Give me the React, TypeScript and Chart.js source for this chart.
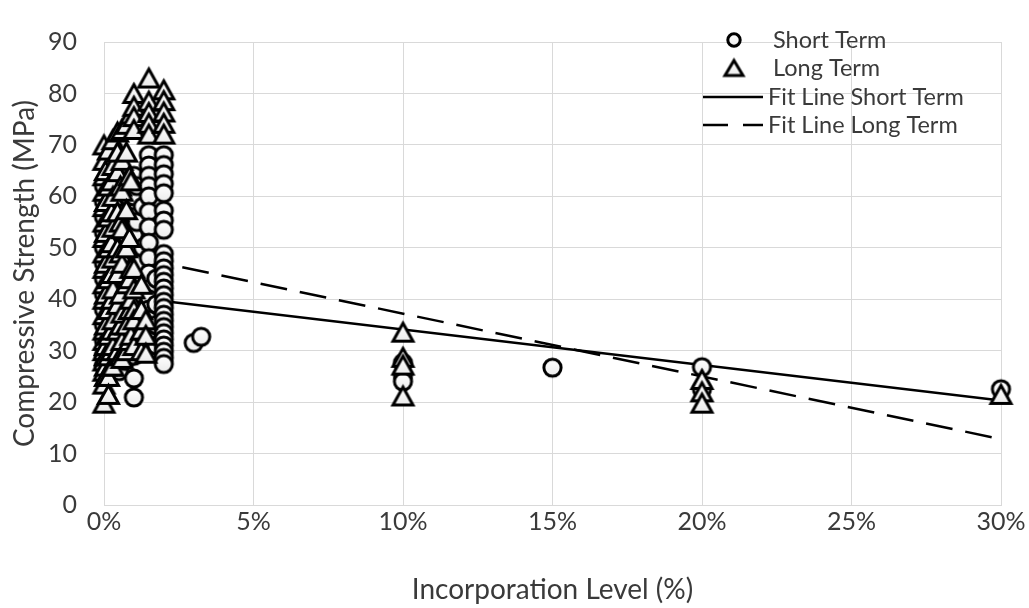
import React, { useEffect, useRef } from "react";
import { Chart, registerables } from "chart.js";

Chart.register(...registerables);

const FONT = "Lato, 'Open Sans', sans-serif";
const TEXT_COLOR = "#3a3a3a";
const GRID_COLOR = "#d9d9d9";

// Short-term compressive strength (MPa) grouped by incorporation level (%)
const shortTermLevels = [0, 0.1, 0.2, 0.3, 0.4, 0.5, 0.6, 0.7, 0.8, 0.9, 1.0, 1.1, 1.2, 1.3, 1.5, 1.75, 2.0, 3.0, 3.25, 10, 15, 20, 30];
const shortTermStrengths = [
  [62, 59, 56, 53, 50, 47, 44, 41, 38, 35, 32, 29, 27],
  [60, 54, 48, 42, 36, 30, 25],
  [63, 58, 52, 46, 40, 34, 28],
  [64, 57, 51, 45, 39, 33, 28],
  [66, 60, 54, 49, 43, 37, 31],
  [67, 62, 58, 52, 46, 41, 35, 29, 26],
  [65, 59, 50, 44, 38, 32],
  [63, 55, 48, 42, 36, 31, 28],
  [60, 52, 46, 40, 34, 30],
  [61, 53, 45, 38, 33, 29],
  [64, 60, 56, 52.5, 49, 46, 43, 40, 37, 34, 31, 29, 24.6, 20.9],
  [62, 55, 47, 39, 33],
  [47, 41, 36, 32, 30],
  [58, 50, 44, 38, 31],
  [68, 66, 64, 62, 60, 57, 54, 51, 48, 45, 42, 40, 38, 36, 34, 32, 30],
  [44, 39, 35, 31],
  [68, 66.1, 64.3, 62.4, 60.6, 57.2, 55.3, 53.5, 48.8, 47.4, 46, 44.7, 43.4, 42.1, 40.8, 39.5, 38.3, 37, 35.8, 34.6, 33.4, 32.2, 31, 29.8, 28.6, 27.4],
  [31.5],
  [32.7],
  [27.6, 25.2, 24],
  [26.7],
  [26.8, 22.5],
  [22.5],
];

// Long-term compressive strength (MPa) grouped by incorporation level (%)
const longTermLevels = [0, 0.05, 0.15, 0.25, 0.3, 0.45, 0.55, 0.6, 0.75, 0.85, 0.9, 1.0, 1.25, 1.4, 1.5, 2.0, 10, 20, 30];
const longTermStrengths = [
  [70, 67, 64, 61, 58, 55, 52, 49, 46, 43, 40, 37, 34, 32, 30, 28, 26, 23.5, 19.8],
  [65, 59, 53, 47, 41, 35, 31, 29, 27, 25],
  [69, 62, 56, 50, 44, 38, 33, 29, 25, 21.5],
  [63, 57, 51, 45, 40, 34, 30, 27],
  [71, 66, 60, 54, 48, 42, 36, 31, 27],
  [72.5, 68.6, 64.8, 57, 50, 45, 39, 34, 30],
  [62, 55, 49, 41, 35, 29],
  [73, 67, 61, 53.7, 47, 37.3, 32, 28.5],
  [74, 68.6, 57.4, 50, 43, 35, 30],
  [64, 52, 44, 38, 32],
  [76, 63, 46, 40, 33],
  [80, 77.5, 75.5, 73, 46, 42, 38, 36, 31],
  [42.9, 38, 34, 30],
  [36, 33, 29.5],
  [83, 78.5, 76.3, 74.2, 72.1],
  [80.7, 78.6, 76.4, 74.2, 72.1],
  [33.6, 28.7, 27.2, 21.2],
  [24.4, 22, 19.8],
  [21.5],
];

// Linear fit lines evaluated at the ends of the level range
const fitLevels = [0, 30];
const shortTermFit = [41.0, 20.3];
const longTermFit = [49.4, 12.8];

const legendLabels = ["Short Term", "Long Term", "Fit Line Short Term", "Fit Line Long Term"];

const toPoints = (levels: number[], values: number[][]) =>
  levels.flatMap((lvl, i) => values[i].map((v) => ({ x: lvl, y: v })));

const fitPoints = (values: number[]) => fitLevels.map((lvl, i) => ({ x: lvl, y: values[i] }));

function markerFill(g: CanvasRenderingContext2D, top: number, bottom: number) {
  const grad = g.createLinearGradient(0, top, 0, bottom);
  grad.addColorStop(0, "#ffffff");
  grad.addColorStop(1, "#ececec");
  return grad;
}

function circleMarker(r: number, lw: number) {
  const size = Math.ceil(2 * r + lw + 4);
  const c = document.createElement("canvas");
  c.width = size;
  c.height = size;
  const g = c.getContext("2d")!;
  const m = size / 2;
  g.beginPath();
  g.arc(m, m, r, 0, Math.PI * 2);
  g.fillStyle = markerFill(g, m - r, m + r);
  g.fill();
  g.lineWidth = lw;
  g.strokeStyle = "#000";
  g.stroke();
  return c;
}

function triangleMarker(halfW: number, halfH: number, lw: number) {
  const size = Math.ceil(2 * Math.max(halfW, halfH) + lw * 3 + 4);
  const c = document.createElement("canvas");
  c.width = size;
  c.height = size;
  const g = c.getContext("2d")!;
  const m = size / 2;
  g.beginPath();
  g.moveTo(m, m - halfH);
  g.lineTo(m + halfW, m + halfH);
  g.lineTo(m - halfW, m + halfH);
  g.closePath();
  g.fillStyle = markerFill(g, m - halfH, m + halfH);
  g.fill();
  g.lineWidth = lw;
  g.lineJoin = "miter";
  g.strokeStyle = "#000";
  g.stroke();
  return c;
}

const legendPlugin = {
  id: "insideLegend",
  afterDraw(chart: any) {
    const ctx = chart.ctx as CanvasRenderingContext2D;
    const rows = [40, 68, 97, 125];
    const markerX = 734;
    ctx.save();
    ctx.font = `23.5px ${FONT}`;
    ctx.fillStyle = TEXT_COLOR;
    ctx.textBaseline = "middle";
    ctx.textAlign = "left";

    const c = circleMarker(6.2, 3);
    ctx.drawImage(c, markerX - c.width / 2, rows[0] - c.height / 2);
    const t = triangleMarker(9, 7.5, 3);
    ctx.drawImage(t, markerX - t.width / 2, rows[1] - t.height / 2);

    ctx.strokeStyle = "#000";
    ctx.lineWidth = 2.5;
    ctx.beginPath();
    ctx.moveTo(703, rows[2]);
    ctx.lineTo(763, rows[2]);
    ctx.stroke();
    ctx.setLineDash([25, 15]);
    ctx.beginPath();
    ctx.moveTo(703, rows[3]);
    ctx.lineTo(763, rows[3]);
    ctx.stroke();
    ctx.setLineDash([]);

    ctx.fillText(legendLabels[0], 773, rows[0]);
    ctx.fillText(legendLabels[1], 773, rows[1]);
    ctx.fillText(legendLabels[2], 768, rows[2]);
    ctx.fillText(legendLabels[3], 768, rows[3]);
    ctx.restore();
  },
};

export default function App() {
  const canvasRef = useRef<HTMLCanvasElement | null>(null);

  useEffect(() => {
    const canvas = canvasRef.current;
    if (!canvas) return;
    const circle = circleMarker(8.6, 3);
    const triangle = triangleMarker(10, 9, 3);

    const tickFont = { family: FONT, size: 25 };
    const titleFont = { family: FONT, size: 28 };

    const chart = new Chart(canvas, {
      type: "scatter",
      data: {
        datasets: [
          {
            label: legendLabels[1],
            data: toPoints(longTermLevels, longTermStrengths),
            pointStyle: triangle as any,
            pointRadius: 10,
            showLine: false,
            clip: false as any,
            order: 0,
          },
          {
            label: legendLabels[0],
            data: toPoints(shortTermLevels, shortTermStrengths),
            pointStyle: circle as any,
            pointRadius: 10,
            showLine: false,
            clip: false as any,
            order: 1,
          },
          {
            label: legendLabels[2],
            type: "line",
            data: fitPoints(shortTermFit),
            borderColor: "#000",
            borderWidth: 2.5,
            pointRadius: 0,
            fill: false,
            order: 2,
          } as any,
          {
            label: legendLabels[3],
            type: "line",
            data: fitPoints(longTermFit),
            borderColor: "#000",
            borderWidth: 2.5,
            borderDash: [27, 13],
            pointRadius: 0,
            fill: false,
            order: 3,
          } as any,
        ],
      },
      options: {
        responsive: false,
        maintainAspectRatio: false,
        animation: false,
        devicePixelRatio: 1,
        layout: { padding: { top: 22, right: 28, bottom: 0, left: 0 } },
        plugins: {
          legend: { display: false },
          tooltip: { enabled: false },
        },
        scales: {
          x: {
            type: "linear",
            min: 0,
            max: 30,
            afterFit(scale: any) {
              scale.height = 103;
            },
            ticks: {
              stepSize: 5,
              callback: (v: any) => `${v}%`,
              font: tickFont,
              color: TEXT_COLOR,
              padding: 2,
              maxRotation: 0,
              autoSkip: false,
            },
            grid: { color: GRID_COLOR, lineWidth: 1, drawTicks: false },
            border: { color: GRID_COLOR },
            title: {
              display: true,
              text: "Incorporation Level (%)",
              font: titleFont,
              color: TEXT_COLOR,
              padding: { top: 0, bottom: 1 },
            },
          },
          y: {
            type: "linear",
            min: 0,
            max: 90,
            afterFit(scale: any) {
              scale.width = 104;
            },
            ticks: {
              stepSize: 10,
              font: tickFont,
              color: TEXT_COLOR,
              padding: 27,
            },
            grid: { color: GRID_COLOR, lineWidth: 1, drawTicks: false },
            border: { color: GRID_COLOR },
            title: {
              display: true,
              text: "Compressive Strength (MPa)",
              font: titleFont,
              color: TEXT_COLOR,
              padding: { top: 8, bottom: 0 },
            },
          },
        },
      },
      plugins: [legendPlugin],
    });

    return () => chart.destroy();
  }, []);

  return (
    <div style={{ position: "fixed", left: 0, top: 0, width: 1029, height: 608, background: "#fff" }}>
      <canvas ref={canvasRef} width={1029} height={608} style={{ display: "block" }} />
    </div>
  );
}
